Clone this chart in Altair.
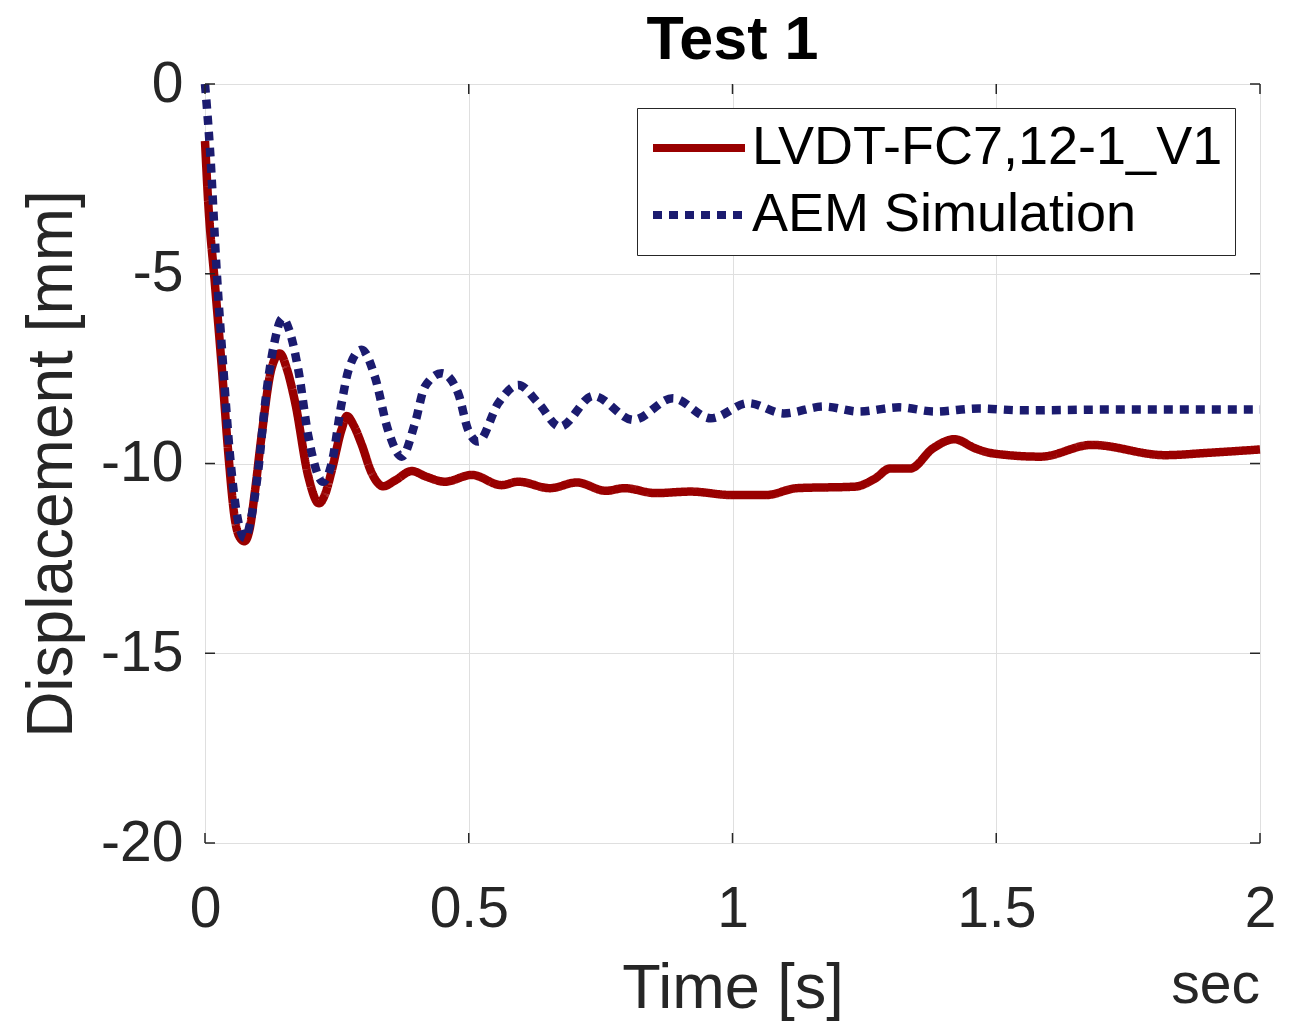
import altair as alt
import pandas as pd

# ---------------- data ----------------
t_lvdt = [0.000, 0.006, 0.019, 0.032, 0.044, 0.057, 0.066, 0.075, 0.085, 0.095,
          0.107, 0.126, 0.142, 0.155, 0.171, 0.196, 0.216, 0.228, 0.240, 0.259,
          0.269, 0.282, 0.297, 0.316, 0.338, 0.360, 0.392, 0.420, 0.455, 0.506,
          0.562, 0.594, 0.654, 0.705, 0.760, 0.795, 0.854, 0.921, 0.997, 1.064,
          1.122, 1.232, 1.270, 1.299, 1.337, 1.380, 1.421, 1.460, 1.492, 1.584,
          1.681, 1.820, 1.900, 2.000]
d_lvdt = [-1.5, -3.1, -5.3, -7.5, -9.7, -11.5, -11.95, -12.05, -11.7, -10.7,
          -9.3, -7.5, -7.1, -7.5, -8.4, -10.35, -11.05, -10.8, -10.2, -9.1,
          -8.75, -9.0, -9.5, -10.25, -10.6, -10.45, -10.2, -10.35, -10.48, -10.3,
          -10.57, -10.48, -10.65, -10.5, -10.72, -10.65, -10.78, -10.74, -10.83, -10.83,
          -10.65, -10.61, -10.4, -10.13, -10.13, -9.6, -9.36, -9.6, -9.73, -9.82,
          -9.51, -9.78, -9.72, -9.63]

t_aem = [0.000, 0.0095, 0.022, 0.035, 0.047, 0.060, 0.076, 0.088, 0.101, 0.114,
         0.130, 0.147, 0.160, 0.177, 0.196, 0.224, 0.240, 0.259, 0.272, 0.297,
         0.322, 0.347, 0.373, 0.398, 0.417, 0.449, 0.480, 0.499, 0.518, 0.556,
         0.594, 0.632, 0.673, 0.736, 0.812, 0.887, 0.959, 1.030, 1.097, 1.173,
         1.240, 1.316, 1.383, 1.467, 1.550, 1.700, 2.000]
d_aem = [0.0, -1.74, -4.9, -7.54, -9.73, -11.3, -11.97, -11.4, -10.17, -8.41,
         -6.92, -6.17, -6.5, -7.54, -9.29, -10.48, -10.0, -8.41, -7.54, -7.0,
         -7.71, -9.12, -9.82, -8.94, -7.97, -7.62, -8.15, -9.12, -9.42, -8.41,
         -7.93, -8.41, -9.03, -8.22, -8.85, -8.28, -8.81, -8.41, -8.68, -8.5,
         -8.63, -8.52, -8.63, -8.55, -8.6, -8.58, -8.58]

series_names = ["LVDT-FC7,12-1_V1", "AEM Simulation"]
series_colors = ["#990000", "#1b1b6f"]
series_dashes = [[1, 0], [9, 7]]
x_ticks = [0, 0.5, 1, 1.5, 2]
y_ticks = [-20, -15, -10, -5, 0]
chart_title = "Test 1"

df = pd.concat([
    pd.DataFrame({"t": t_lvdt, "d": d_lvdt, "series": series_names[0]}),
    pd.DataFrame({"t": t_aem, "d": d_aem, "series": series_names[1]}),
], ignore_index=True)
xt = pd.DataFrame({"t": x_ticks})
yt = pd.DataFrame({"d": y_ticks})

# ---------------- styling ----------------
W, H = 1055, 759
FONT = "Liberation Sans"
DARK = "#262626"
GRID = "#dfdfdf"

legend = alt.Legend(
    title=None, orient="none", legendX=432, legendY=24,
    symbolType="stroke", symbolSize=8464, symbolStrokeWidth=8,
    symbolOffset=0, clipHeight=56, rowPadding=11,
    labelFont=FONT, labelFontSize=54, labelColor="black", labelOffset=3,
    labelLimit=0, padding=12, strokeColor=DARK, fillColor="white",
)

x_axis = alt.Axis(
    values=x_ticks, title="Time [s]", grid=True, gridColor=GRID, gridWidth=1,
    domain=False, ticks=False, tickSize=0, labelFlush=False, labelOverlap=False,
    labelExpr="'' + datum.value", labelFont=FONT, labelFontSize=57,
    labelColor=DARK, labelBaseline="alphabetic", labelPadding=83,
    titleFont=FONT, titleFontSize=63, titleFontWeight="normal", titleColor=DARK,
    titleX=W / 2, titleY=164, titleAlign="center", titleBaseline="alphabetic",
)
y_axis = alt.Axis(
    values=y_ticks, title="Displacement [mm]", grid=True, gridColor=GRID, gridWidth=1,
    domain=False, ticks=False, tickSize=0, labelFlush=False, labelOverlap=False,
    labelExpr="'' + datum.value", labelFont=FONT, labelFontSize=57,
    labelColor=DARK, labelPadding=22, labelBaseline="middle",
    titleFont=FONT, titleFontSize=64, titleFontWeight="normal", titleColor=DARK,
    titleAngle=270, titleX=-134, titleY=H / 2, titleAlign="center",
    titleBaseline="alphabetic",
)
x_scale = alt.Scale(domain=[0, 2], nice=False, zero=False)
y_scale = alt.Scale(domain=[-20, 0], nice=False, zero=False)
x_enc = alt.X("t:Q", scale=x_scale, axis=x_axis, title="Time [s]")
y_enc = alt.Y("d:Q", scale=y_scale, axis=y_axis, title="Displacement [mm]")

color_enc = alt.Color("series:N", scale=alt.Scale(domain=series_names, range=series_colors),
                      legend=legend)
dash_enc = alt.StrokeDash("series:N", scale=alt.Scale(domain=series_names, range=series_dashes),
                          legend=legend)

base = alt.Chart(df)
red = base.transform_filter(alt.datum.series == series_names[0]).mark_line(
    strokeWidth=8.5, interpolate="monotone", strokeJoin="round", strokeCap="butt"
).encode(x=x_enc, y=y_enc, color=color_enc, strokeDash=dash_enc, order="t:Q")
blue = base.transform_filter(alt.datum.series == series_names[1]).mark_line(
    strokeWidth=8.5, interpolate="monotone", strokeJoin="miter", strokeCap="butt"
).encode(x=x_enc, y=y_enc, color=color_enc, strokeDash=dash_enc, order="t:Q")

TL = 10
tick_x_bottom = alt.Chart(xt).mark_rule(color=DARK, strokeWidth=1.5).encode(
    x=x_enc, y=alt.value(H), y2=alt.value(H - TL))
tick_x_top = alt.Chart(xt).mark_rule(color=DARK, strokeWidth=1.5).encode(
    x=x_enc, y=alt.value(0), y2=alt.value(TL))
tick_y_left = alt.Chart(yt).mark_rule(color=DARK, strokeWidth=1.5).encode(
    y=y_enc, x=alt.value(0), x2=alt.value(TL))
tick_y_right = alt.Chart(yt).mark_rule(color=DARK, strokeWidth=1.5).encode(
    y=y_enc, x=alt.value(W), x2=alt.value(W - TL))

sec = alt.Chart(xt).transform_filter(alt.datum.t == 2).mark_text(
    text="sec", align="right", baseline="alphabetic", font=FONT, fontSize=57, color=DARK
).encode(x=alt.value(W), y=alt.value(919))

title_mark = alt.Chart(xt).transform_filter(alt.datum.t == 2).mark_text(
    text=chart_title, align="center", baseline="alphabetic", font=FONT, fontSize=61,
    fontWeight="bold", color="black"
).encode(x=alt.value(W / 2), y=alt.value(-25))

chart = alt.layer(
    red, blue, tick_x_bottom, tick_x_top, tick_y_left, tick_y_right, sec, title_mark
).properties(
    width=W, height=H,
    autosize=alt.AutoSizeParams(type="none"),
    padding={"left": 197, "top": 76, "right": 30, "bottom": 180},
).configure_view(
    stroke=DARK, strokeWidth=1.5
).configure(background="white")

chart.save("out.html", embed_options={"renderer": "svg", "actions": False})
